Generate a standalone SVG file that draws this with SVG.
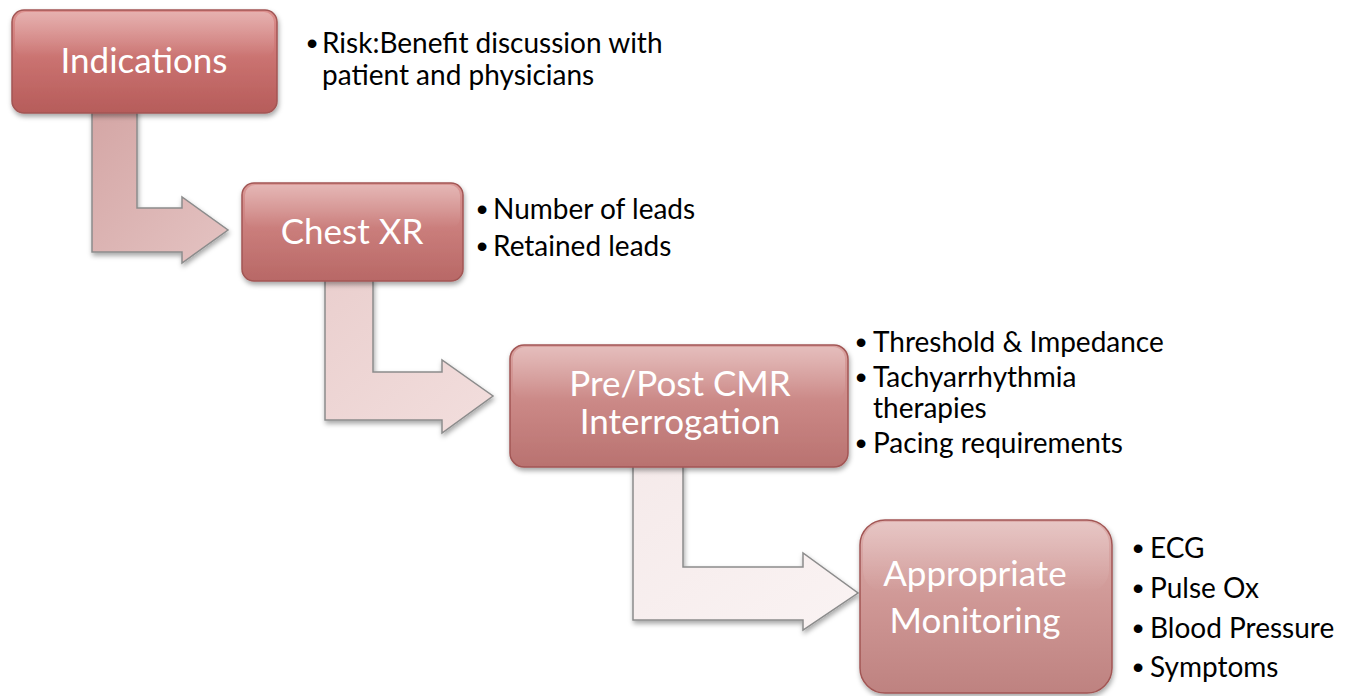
<svg xmlns="http://www.w3.org/2000/svg" width="1355" height="696" viewBox="0 0 1355 696">
  <defs>
    <style>
      .title { font-family: Lato, "Open Sans", "Liberation Sans", sans-serif; font-size: 35px; fill: #ffffff; text-anchor: middle; }
      .item { font-family: Lato, "Open Sans", "Liberation Sans", sans-serif; font-size: 28px; fill: #000000; }
      .dot { font-family: "Liberation Sans", sans-serif; font-size: 32px; fill: #000000; text-anchor: middle; }
      .box { stroke: #a25654; stroke-width: 1.5; filter: url(#shadow); }
      .arrow { stroke: #8c8c8c; stroke-width: 1.5; stroke-linejoin: miter; filter: url(#shadow); }
      .gloss { fill: url(#gloss); stroke: none; }
    </style>
    <filter id="shadow" x="-10%" y="-10%" width="125%" height="130%">
      <feDropShadow dx="1" dy="3" stdDeviation="2.5" flood-color="#000000" flood-opacity="0.35"/>
    </filter>
    <linearGradient id="g1" x1="0" y1="0" x2="0" y2="1">
      <stop offset="0" stop-color="#dc908e"/>
      <stop offset="0.5" stop-color="#c9716f"/>
      <stop offset="1" stop-color="#b65c5a"/>
    </linearGradient>
    <linearGradient id="g2" x1="0" y1="0" x2="0" y2="1">
      <stop offset="0" stop-color="#da9896"/>
      <stop offset="0.5" stop-color="#c97c7a"/>
      <stop offset="1" stop-color="#b86866"/>
    </linearGradient>
    <linearGradient id="g3" x1="0" y1="0" x2="0" y2="1">
      <stop offset="0" stop-color="#daa2a0"/>
      <stop offset="0.5" stop-color="#ca8785"/>
      <stop offset="1" stop-color="#b97270"/>
    </linearGradient>
    <linearGradient id="g4" x1="0" y1="0" x2="0" y2="1">
      <stop offset="0" stop-color="#ddaeac"/>
      <stop offset="0.5" stop-color="#ce9694"/>
      <stop offset="1" stop-color="#be8280"/>
    </linearGradient>
    <linearGradient id="gloss" x1="0" y1="0" x2="0" y2="1">
      <stop offset="0" stop-color="#ffffff" stop-opacity="0.3"/>
      <stop offset="1" stop-color="#ffffff" stop-opacity="0"/>
    </linearGradient>
    <linearGradient id="a1" x1="0" y1="0" x2="1" y2="1">
      <stop offset="0" stop-color="#d4a6a5"/>
      <stop offset="1" stop-color="#e4c3c2"/>
    </linearGradient>
    <linearGradient id="a2" x1="0" y1="0" x2="1" y2="1">
      <stop offset="0" stop-color="#eacfce"/>
      <stop offset="1" stop-color="#f2dedd"/>
    </linearGradient>
    <linearGradient id="a3" x1="0" y1="0" x2="1" y2="1">
      <stop offset="0" stop-color="#f5eaea"/>
      <stop offset="1" stop-color="#faf3f3"/>
    </linearGradient>
  </defs>

  <rect width="1355" height="696" fill="#ffffff"/>

  <!-- bent connector arrows between the steps -->
  <g id="connectors">
    <path class="arrow" fill="url(#a1)" d="M92,110 L137,110 L137,208 L182,208 L182,197 L228,230 L182,263 L182,252 L92,252 Z"/>
    <path class="arrow" fill="url(#a2)" d="M325,279 L373,279 L373,372 L442,372 L442,360 L493,396 L442,433 L442,420 L325,420 Z"/>
    <path class="arrow" fill="url(#a3)" d="M633,464 L683,464 L683,567 L803,567 L803,553 L858,593 L803,630 L803,620 L633,620 Z"/>
  </g>

  <g id="indications">
    <rect class="box" x="12" y="10" width="265" height="103" rx="12" fill="url(#g1)"/>
    <rect class="gloss" x="15" y="12" width="259" height="45" rx="10"/>
    <text class="title" x="144" y="73">Indications</text>
    <text class="dot" x="312" y="54">•</text>
    <text class="item" x="322" y="53">Risk:Benefit discussion with<tspan x="322" y="85">patient and physicians</tspan></text>
  </g>

  <g id="chest-xr">
    <rect class="box" x="242" y="183" width="221" height="98" rx="12" fill="url(#g2)"/>
    <rect class="gloss" x="245" y="185" width="215" height="43" rx="10"/>
    <text class="title" x="352" y="244">Chest XR</text>
    <text class="dot" x="482" y="220">•</text>
    <text class="item" x="493" y="219">Number of leads</text>
    <text class="dot" x="482" y="257">•</text>
    <text class="item" x="493" y="256">Retained leads</text>
  </g>

  <g id="interrogation">
    <rect class="box" x="510" y="345" width="338" height="122" rx="14" fill="url(#g3)"/>
    <rect class="gloss" x="513" y="347" width="332" height="52" rx="12"/>
    <text class="title" x="680" y="396">Pre/Post CMR<tspan x="680" y="434">Interrogation</tspan></text>
    <text class="dot" x="861" y="353">•</text>
    <text class="item" x="873" y="352">Threshold &amp; Impedance</text>
    <text class="dot" x="861" y="388">•</text>
    <text class="item" x="873" y="387">Tachyarrhythmia<tspan x="873" y="418">therapies</tspan></text>
    <text class="dot" x="861" y="454">•</text>
    <text class="item" x="873" y="453">Pacing requirements</text>
  </g>

  <g id="monitoring">
    <rect class="box" x="860" y="520" width="252" height="173" rx="25" fill="url(#g4)"/>
    <rect class="gloss" x="863" y="522" width="246" height="70" rx="22"/>
    <text class="title" x="975" y="586">Appropriate<tspan x="975" y="633">Monitoring</tspan></text>
    <text class="dot" x="1138" y="559">•</text>
    <text class="item" x="1150" y="558">ECG</text>
    <text class="dot" x="1138" y="599">•</text>
    <text class="item" x="1150" y="598">Pulse Ox</text>
    <text class="dot" x="1138" y="639">•</text>
    <text class="item" x="1150" y="638">Blood Pressure</text>
    <text class="dot" x="1138" y="678">•</text>
    <text class="item" x="1150" y="677">Symptoms</text>
  </g>
</svg>
